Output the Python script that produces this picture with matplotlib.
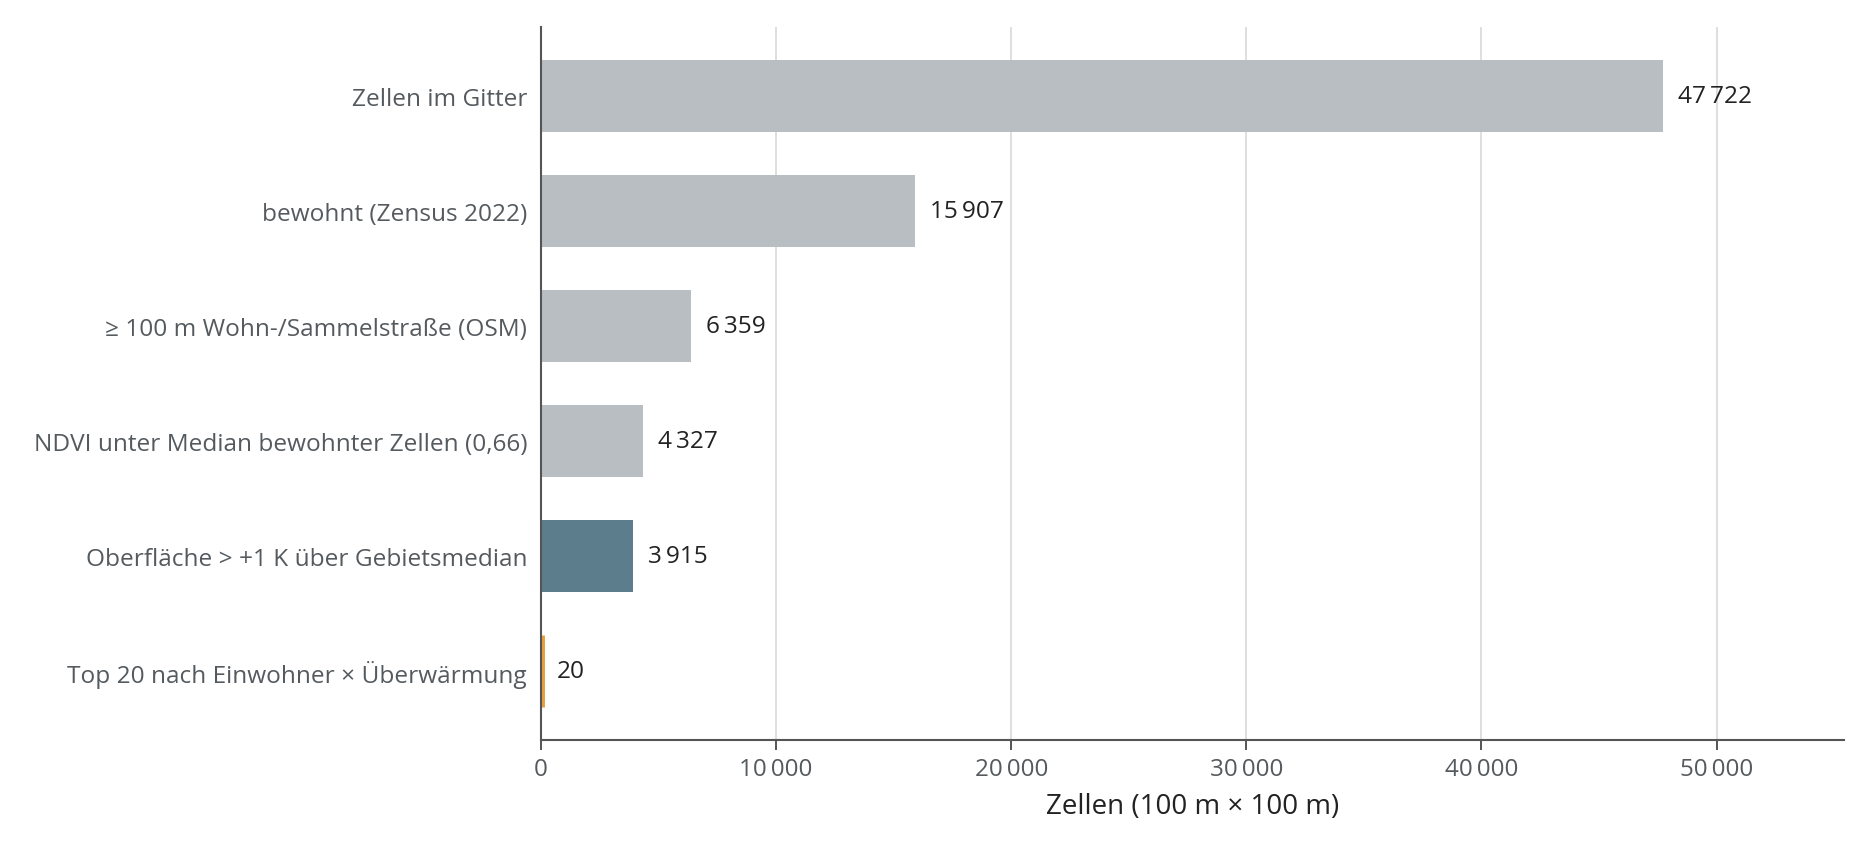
import matplotlib
matplotlib.use("Agg")
import matplotlib.pyplot as plt
from matplotlib.ticker import FuncFormatter

categories = [
    "Zellen im Gitter",
    "bewohnt (Zensus 2022)",
    "≥ 100 m Wohn-/Sammelstraße (OSM)",
    "NDVI unter Median bewohnter Zellen (0,66)",
    "Oberfläche > +1 K über Gebietsmedian",
    "Top 20 nach Einwohner × Überwärmung",
]
values = [47722, 15907, 6359, 4327, 3915, 20]
colors = ["#b9bec2", "#b9bec2", "#b9bec2", "#b9bec2", "#5b7d8c", "#e8a13a"]
xticks = [0, 10000, 20000, 30000, 40000, 50000]
xlabel = "Zellen (100 m × 100 m)"

plt.rcParams['font.family'] = ['Open Sans', 'DejaVu Sans']

def fmt(v):
    return f"{int(v):,}".replace(",", "\u2009")

fig = plt.figure(figsize=(18.73, 8.54), dpi=100)
x0, x1, ytop, ybot = 541, 1844, 28, 741
ax = fig.add_axes([x0/1873, 1 - ybot/854, (x1-x0)/1873, (ybot-ytop)/854])

y = list(range(len(categories)))
bars = ax.barh(y, values, height=0.62, color=colors, linewidth=0, zorder=3)
# smallest bar: give it a visible outline as in the reference
bars[-1].set_edgecolor(colors[-1])
bars[-1].set_linewidth(5)
bars[-1].set_joinstyle('miter')
bars[-1].set_zorder(5)
ax.set_ylim(5.6, -0.6)
ax.set_xlim(0, 55420)
ax.set_yticks(y)
ax.set_yticklabels(categories, fontsize=17.6, color="#555a5e")
ax.tick_params(axis='y', length=0, pad=10)
ax.set_xticks(xticks)
ax.xaxis.set_major_formatter(FuncFormatter(lambda v, p: fmt(v)))
ax.tick_params(axis='x', length=7, width=1.4, color="#555555", labelsize=17.4, labelcolor="#555a5e", pad=5)
ax.grid(axis='x', color="#dcdcd8", linewidth=1.3, zorder=0)
ax.set_axisbelow(True)
for s in ["top", "right"]:
    ax.spines[s].set_visible(False)
for s in ["left", "bottom"]:
    ax.spines[s].set_color("#555555")
    ax.spines[s].set_linewidth(1.5)
    ax.spines[s].set_zorder(6)

for yi, v in zip(y, values):
    ax.text(v + 650, yi, fmt(v), va='center', ha='left', fontsize=17.6, color="#222222", zorder=4)

ax.set_xlabel(xlabel, fontsize=20, color="#222222", labelpad=8)

fig.savefig("out.png", dpi=100)
